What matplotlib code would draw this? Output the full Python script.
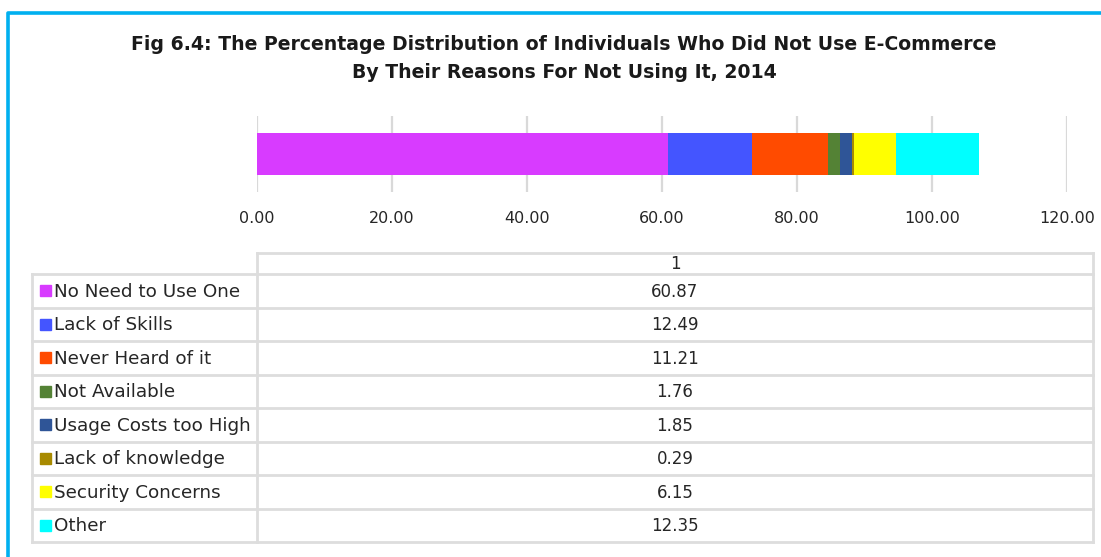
import matplotlib.pyplot as plt
from matplotlib.patches import Rectangle

reasons = ['No Need to Use One', 'Lack of Skills', 'Never Heard of it', 'Not Available',
           'Usage Costs too High', 'Lack of knowledge', 'Security Concerns', 'Other']
values = [60.87, 12.49, 11.21, 1.76, 1.85, 0.29, 6.15, 12.35]
colors = ['#D83BFF', '#4455FF', '#FF4B00', '#548235', '#2F5597', '#A88A00', '#FFFF00', '#00FFFF']
category = ['1']
x_ticks = [0, 20, 40, 60, 80, 100, 120]

plt.rcParams['font.family'] = ['DejaVu Sans']

W, H = 1101, 557
fig = plt.figure(figsize=(W / 100, H / 100), dpi=100)

# overlay in pixel units for the frame and the data table
ov = fig.add_axes([0, 0, 1, 1])
ov.set_xlim(0, W)
ov.set_ylim(H, 0)
ov.axis('off')

# blue frame
ov.plot([8, 8, W + 5], [H + 5, 12.5, 12.5], color='#00B0F0', lw=2.6, solid_capstyle='butt')

ov.text(564, 44, 'Fig 6.4: The Percentage Distribution of Individuals Who Did Not Use E-Commerce',
        ha='center', va='center', fontsize=13.6, fontweight='bold', color='#1a1a1a')
ov.text(564, 72, 'By Their Reasons For Not Using It, 2014',
        ha='center', va='center', fontsize=13.6, fontweight='bold', color='#1a1a1a')

# stacked bar
ax = fig.add_axes([257 / W, 1 - 192 / H, (1067 - 257) / W, (192 - 116) / H])
left = 0
for v, c, r in zip(values, colors, reasons):
    ax.barh(category, [v], left=left, height=0.55, color=c, label=r, zorder=3)
    left += v
ax.set_xlim(0, 120)
ax.set_ylim(-0.5, 0.5)
ax.set_xticks(x_ticks)
ax.set_xticklabels(['{:.2f}'.format(t) for t in x_ticks], fontsize=11.5, color='#262626')
ax.set_yticks([])
ax.tick_params(axis='x', length=0, pad=14)
ax.grid(axis='x', color='#D9D9D9', lw=1.6, zorder=0)
for s in ax.spines.values():
    s.set_visible(False)

# data table
line_kw = dict(color='#DDDDDD', lw=2, solid_capstyle='projecting')
x_lab, x_col, x_end = 32, 257, 1093
y_head, y_top, y_bot = 252.5, 274, 542
row_h = (y_bot - y_top) / len(reasons)
fs = 13.2

ov.plot([x_col, x_end], [y_head, y_head], **line_kw)
ov.plot([x_col, x_col], [y_head, y_bot], **line_kw)
ov.plot([x_end, x_end], [y_head, y_bot], **line_kw)
ov.plot([x_lab, x_lab], [y_top, y_bot], **line_kw)
ov.text((x_col + x_end) / 2, (y_head + y_top) / 2 + 1, category[0], ha='center', va='center',
        fontsize=12, color='#262626')
for i in range(len(reasons) + 1):
    y = y_top + i * row_h
    ov.plot([x_lab, x_end], [y, y], **line_kw)

for i, (r, v, c) in enumerate(zip(reasons, values, colors)):
    yc = y_top + (i + 0.5) * row_h
    ov.add_patch(Rectangle((40, yc - 5.5), 11, 11, color=c))
    ov.text(54, yc + 1, r, ha='left', va='center', fontsize=fs, color='#262626')
    ov.text((x_col + x_end) / 2, yc + 1, '{:.2f}'.format(v), ha='center', va='center',
            fontsize=12, color='#262626')

fig.savefig('out.png', dpi=100)
